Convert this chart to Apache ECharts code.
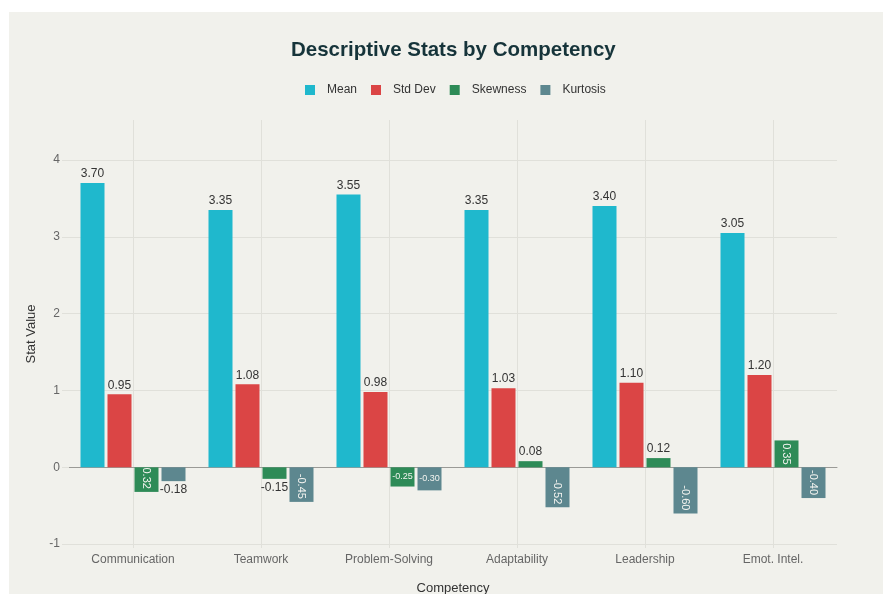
<!DOCTYPE html>
<html>
<head>
<meta charset="utf-8">
<script src="https://cdn.jsdelivr.net/npm/echarts@6/dist/echarts.min.js"></script>
<style>
  html, body { margin: 0; padding: 0; background: #ffffff; overflow: hidden; }
  #chart { position: absolute; left: 9px; top: 12px; width: 874px; height: 582px; }
</style>
</head>
<body>
<div id="chart"></div>
<script>
// Descriptive statistics per competency
const competencies = ['Communication', 'Teamwork', 'Problem-Solving', 'Adaptability', 'Leadership', 'Emot. Intel.'];
const meanValues     = [3.70, 3.35, 3.55, 3.35, 3.40, 3.05];
const stdDevValues   = [0.95, 1.08, 0.98, 1.03, 1.10, 1.20];
const skewnessValues = [-0.32, -0.15, -0.25, 0.08, 0.12, 0.35];
const kurtosisValues = [-0.18, -0.45, -0.30, -0.52, -0.60, -0.40];
const yTicks = [-1, 0, 1, 2, 3, 4];

const FONT = 'Liberation Sans, Arial, sans-serif';
const colors = { mean: '#1FB8CD', std: '#DB4545', skew: '#2E8B57', kurt: '#5D878F' };

// Value labels: tall bars carry the label above, short ones inside or outside
function outsideLabel(v) {
  return {
    show: true,
    position: v >= 0 ? 'top' : 'bottom',
    distance: 3,
    color: '#333333',
    fontSize: 12,
    fontFamily: FONT,
    formatter: v.toFixed(2)
  };
}
function smallBarLabel(v) {
  const a = Math.abs(v);
  if (a < 0.2) return outsideLabel(v);
  if (a < 0.31) {
    return { show: true, position: 'inside', color: '#f4f4f0', fontSize: 9, fontFamily: FONT, formatter: v.toFixed(2) };
  }
  if (v > 0) {
    return { show: true, position: 'inside', rotate: -90, color: '#f4f4f0', fontSize: 11, fontFamily: FONT, formatter: v.toFixed(2) };
  }
  return {
    show: true, position: 'insideBottom', distance: 3, rotate: -90,
    align: 'right', verticalAlign: 'middle',
    color: '#f4f4f0', fontSize: 11, fontFamily: FONT, formatter: v.toFixed(2)
  };
}

function barSeries(name, values, color, labelFn) {
  return {
    name: name,
    type: 'bar',
    barWidth: 24,
    barGap: '12.5%',
    itemStyle: { color: color },
    data: values.map(v => ({ value: v, label: labelFn(v) }))
  };
}

const chart = echarts.init(document.getElementById('chart'), null, { renderer: 'canvas' });
chart.setOption({
  backgroundColor: '#f1f1ec',
  animation: false,
  color: [colors.mean, colors.std, colors.skew, colors.kurt],
  title: {
    text: 'Descriptive Stats by Competency',
    left: 277,
    top: 23,
    textStyle: { fontFamily: FONT, fontSize: 20.5, fontWeight: 'bold', color: '#16343a' }
  },
  legend: {
    top: 67,
    left: 291,
    icon: 'rect',
    itemWidth: 10,
    itemHeight: 10,
    itemGap: 14,
    textStyle: { fontFamily: FONT, fontSize: 12, color: '#333333', padding: [0, 0, 0, 7] },
    data: ['Mean', 'Std Dev', 'Skewness', 'Kurtosis']
  },
  grid: { left: 60, right: 46, top: 108, bottom: 46, outerBoundsMode: 'none', containLabel: false },
  xAxis: {
    type: 'category',
    data: competencies,
    name: 'Competency',
    nameLocation: 'middle',
    nameGap: 34,
    nameTextStyle: { fontFamily: FONT, fontSize: 13, color: '#333333' },
    axisLine: { show: true, onZero: true, lineStyle: { color: '#9a9a96', width: 1 } },
    axisTick: { show: false },
    axisLabel: { fontFamily: FONT, fontSize: 12, color: '#666666', margin: 6 },
    splitLine: { show: true, alignWithLabel: true, lineStyle: { color: '#e0e0da', width: 1 } }
  },
  yAxis: {
    type: 'value',
    min: -1.05,
    max: 4.52,
    name: 'Stat Value',
    nameLocation: 'middle',
    nameGap: 31,
    nameTextStyle: { fontFamily: FONT, fontSize: 13, color: '#333333' },
    axisLine: { show: false },
    axisTick: { show: true, length: 7, customValues: yTicks, lineStyle: { color: '#e0e0da' } },
    axisLabel: { fontFamily: FONT, fontSize: 12, color: '#666666', margin: 9, customValues: yTicks },
    splitLine: { show: true, lineStyle: { color: '#e0e0da', width: 1 } }
  },
  series: [
    barSeries('Mean', meanValues, colors.mean, outsideLabel),
    barSeries('Std Dev', stdDevValues, colors.std, outsideLabel),
    barSeries('Skewness', skewnessValues, colors.skew, smallBarLabel),
    barSeries('Kurtosis', kurtosisValues, colors.kurt, smallBarLabel)
  ]
});
</script>
</body>
</html>
